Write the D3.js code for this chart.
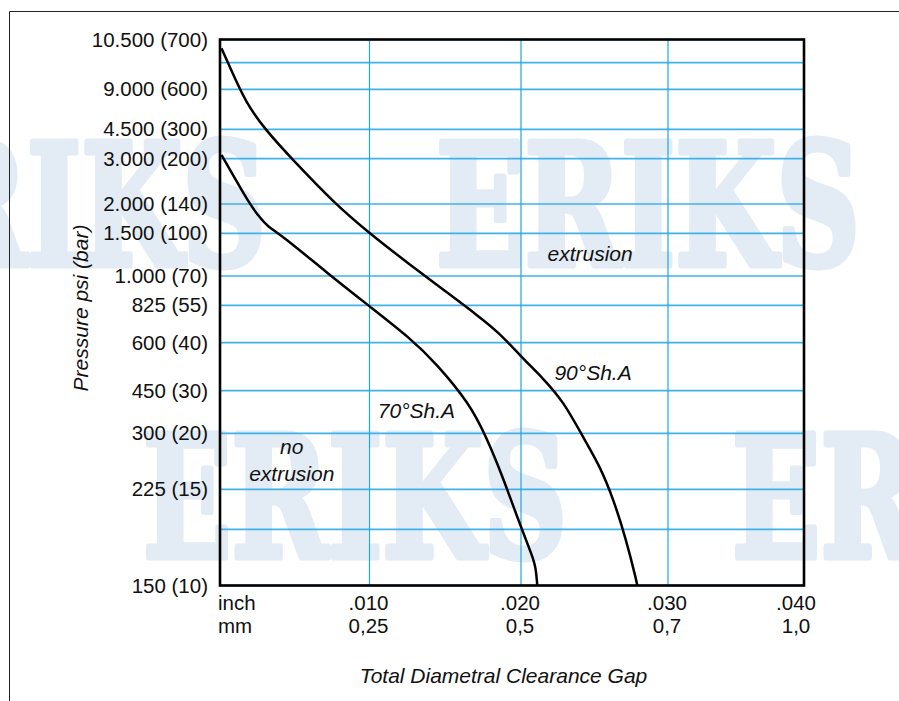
<!DOCTYPE html>
<html>
<head>
<meta charset="utf-8">
<script src="https://cdn.jsdelivr.net/npm/d3@7"></script>
<style>
  body { margin: 0; background: #fff; }
  svg { display: block; font-family: "Liberation Sans", Arial, Helvetica, sans-serif; }
</style>
</head>
<body>
<script>
// pressure axis: labels (psi) and the bar value each one sits on
var psiLabels = ["10.500", "9.000", "4.500", "3.000", "2.000", "1.500", "1.000", "825", "600", "450", "300", "225", "150"];
var barTicks = [700, 600, 300, 200, 140, 100, 70, 55, 40, 30, 20, 15, 10];
// every horizontal grid line (bar), including the two unlabeled ones
var barGrid = [700, 650, 600, 300, 200, 140, 100, 70, 55, 40, 30, 20, 15, 12.5, 10];

// clearance gap axis
var gapInch = [0, 0.010, 0.020, 0.030, 0.040];
var inchLabels = ["inch", ".010", ".020", ".030", ".040"];
var mmLabels = ["mm", "0,25", "0,5", "0,7", "1,0"];

// curves: [gap inch, pressure bar]
var shore90 = [
  [0.0001, 681], [0.0001, 681], [0.0008, 633], [0.0017, 507], [0.0030, 300], [0.0048, 200],
  [0.0077, 140], [0.0100, 100], [0.0127, 77.7], [0.0149, 62.8], [0.0171, 51.1],
  [0.0186, 43.8], [0.0200, 37.1], [0.0215, 32.6], [0.0229, 27.4], [0.0242, 19.7],
  [0.0254, 17.0], [0.0263, 14.33], [0.0271, 12.17], [0.0279, 10.1], [0.0279, 10]
];
var shore70 = [
  [0.0001, 213], [0.0001, 213], [0.0010, 174], [0.0019, 143], [0.0026, 122.7], [0.0032, 109],
  [0.0041, 98.8], [0.0072, 71.9], [0.0100, 54.6], [0.0127, 41.8], [0.0144, 35.7],
  [0.0166, 27.0], [0.0177, 19.7], [0.0188, 16.1], [0.0199, 12.87], [0.0208, 11.27],
  [0.0210, 10.8], [0.0211, 10.1], [0.0211, 10]
];

var notes = [
  {text: "extrusion", gap: 0.0247, bar: 80.5},
  {text: "90°Sh.A", gap: 0.0249, bar: 32.2},
  {text: "70°Sh.A", gap: 0.0131, bar: 23.5},
  {text: "no", gap: 0.0048, bar: 18.15},
  {text: "extrusion", gap: 0.0048, bar: 15.74}
];

var width = 899, height = 701;
var plotLeft = 220, plotRight = 804, plotTop = 39.5, plotBottom = 585.5;
// the printed chart spaces its grid unevenly, so both scales are piecewise
var xRange = [plotLeft, 369.5, 521, 668, plotRight];
var yRange = [plotTop, 62.7, 89.3, 129.3, 158.7, 204, 233.3, 276, 305.3, 342.7, 390.7, 433.3, 489.3, 529.3, plotBottom];

var x = d3.scaleLinear().domain(gapInch).range(xRange);
var y = d3.scaleLinear().domain(barGrid).range(yRange);

var svg = d3.select("body").append("svg")
  .attr("width", width)
  .attr("height", height);

// watermark
var wm = svg.append("g")
  .attr("fill", "#e3ecf5")
  .attr("stroke", "#e3ecf5")
  .attr("stroke-width", 7)
  .attr("stroke-linejoin", "round")
  .attr("font-family", "'DejaVu Serif', serif")
  .attr("font-weight", "bold")
  .attr("font-size", 168);
[[-158, 265], [436, 265], [143, 557], [732, 557]].forEach(function(p) {
  wm.append("text")
    .attr("x", p[0])
    .attr("y", p[1])
    .attr("textLength", 424)
    .attr("lengthAdjust", "spacingAndGlyphs")
    .text("ERIKS");
});

// outer frame
svg.append("path")
  .attr("d", "M9.5," + height + "V11.5H" + width)
  .attr("fill", "none")
  .attr("stroke", "#222")
  .attr("stroke-width", 1);

// grid
svg.append("g").selectAll("line")
  .data(barGrid)
  .enter().append("line")
  .attr("x1", plotLeft).attr("x2", plotRight)
  .attr("y1", function(d) { return y(d); })
  .attr("y2", function(d) { return y(d); })
  .attr("stroke", "#3fb3e8")
  .attr("stroke-width", 1.7);

svg.append("g").selectAll("line")
  .data(gapInch.slice(1, 4))
  .enter().append("line")
  .attr("y1", plotTop).attr("y2", plotBottom)
  .attr("x1", function(d) { return x(d); })
  .attr("x2", function(d) { return x(d); })
  .attr("stroke", "#1fa6e3")
  .attr("stroke-width", 1.2);

// curves (basis smoothing irons out reading noise; doubled end points pin the ends)
var line = d3.line()
  .x(function(d) { return x(d[0]); })
  .y(function(d) { return y(d[1]); })
  .curve(d3.curveBasis);

[shore90, shore70].forEach(function(s) {
  svg.append("path")
    .attr("d", line(s))
    .attr("fill", "none")
    .attr("stroke", "#000")
    .attr("stroke-width", 2.5);
});

// plot frame
svg.append("rect")
  .attr("x", plotLeft).attr("y", plotTop)
  .attr("width", plotRight - plotLeft).attr("height", plotBottom - plotTop)
  .attr("fill", "none")
  .attr("stroke", "#000")
  .attr("stroke-width", 2.6);

// y tick labels
svg.append("g").selectAll("text")
  .data(barTicks)
  .enter().append("text")
  .attr("x", 208)
  .attr("y", function(d) { return y(d); })
  .attr("dy", "0.35em")
  .attr("text-anchor", "end")
  .attr("font-size", 20.5)
  .attr("fill", "#111")
  .text(function(d, i) { return psiLabels[i] + " (" + d + ")"; });

// x tick labels, inch row and mm row
[[inchLabels, 610], [mmLabels, 633]].forEach(function(row) {
  svg.append("g").selectAll("text")
    .data(gapInch)
    .enter().append("text")
    .attr("x", function(d, i) { return i == 0 ? plotLeft - 2 : x(d) - (i == 4 ? 8 : 1); })
    .attr("y", row[1])
    .attr("text-anchor", function(d, i) { return i == 0 ? "start" : "middle"; })
    .attr("font-size", 20.5)
    .attr("fill", "#111")
    .text(function(d, i) { return row[0][i]; });
});

// axis titles
svg.append("text")
  .attr("transform", "translate(88,308) rotate(-90)")
  .attr("text-anchor", "middle")
  .attr("font-size", 21)
  .attr("font-style", "italic")
  .attr("fill", "#111")
  .text("Pressure psi (bar)");

svg.append("text")
  .attr("x", 503.5)
  .attr("y", 683)
  .attr("text-anchor", "middle")
  .attr("font-size", 21)
  .attr("font-style", "italic")
  .attr("fill", "#111")
  .text("Total Diametral Clearance Gap");

// region / curve notes
svg.append("g").selectAll("text")
  .data(notes)
  .enter().append("text")
  .attr("x", function(d) { return x(d.gap); })
  .attr("y", function(d) { return y(d.bar); })
  .attr("text-anchor", "middle")
  .attr("font-size", 21)
  .attr("font-style", "italic")
  .attr("fill", "#111")
  .text(function(d) { return d.text; });
</script>
</body>
</html>
